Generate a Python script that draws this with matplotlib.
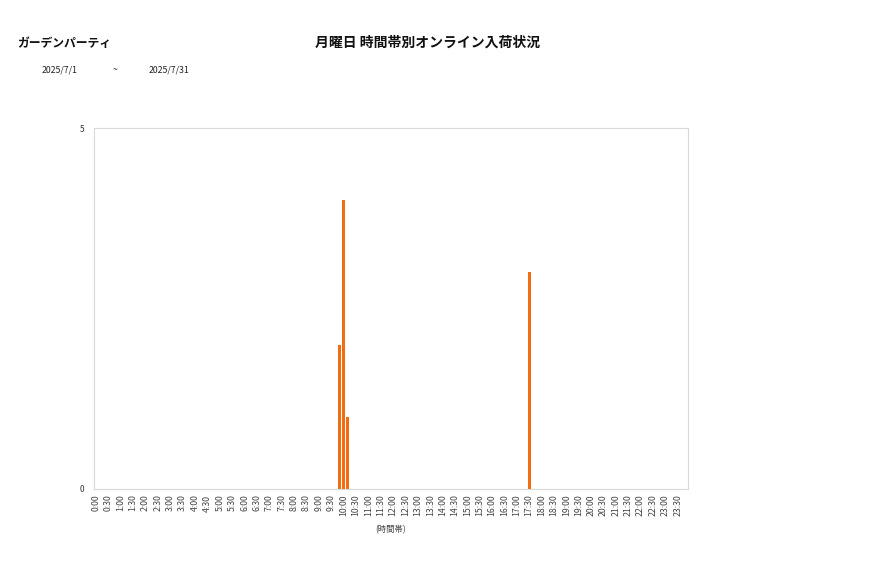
import matplotlib
matplotlib.use('Agg')
from matplotlib import pyplot as plt
import numpy as np

plt.rcParams['font.family'] = ['Noto Sans CJK JP', 'DejaVu Sans']

# 10-minute slots over the day; only slots with arrivals are listed
shop_name = 'ガーデンパーティ'
chart_title = '月曜日 時間帯別オンライン入荷状況'
date_from = '2025/7/1'
date_to = '2025/7/31'
x_label = '(時間帯)'

hit_slots = ['9:50', '10:00', '10:10', '17:30']
hit_counts = [2, 4, 1, 3]

y_ticks = [0, 5]

slot_labels = ['%d:%02d' % (h, m) for h in range(24) for m in (0, 10, 20, 30, 40, 50)]
counts = [0] * len(slot_labels)
for s, c in zip(hit_slots, hit_counts):
    counts[slot_labels.index(s)] = c

fig = plt.figure(figsize=(8.77, 5.78), dpi=100)
ax = fig.add_axes([94 / 877, 89 / 578, 594 / 877, 361 / 578])

x = np.arange(len(slot_labels))
ax.bar(x, counts, width=0.75, color='#F26C12')

ax.set_xlim(-0.5, len(slot_labels) - 0.5)
ax.set_ylim(0, 5)
ax.set_yticks(y_ticks)
ax.set_yticklabels([str(v) for v in y_ticks], fontsize=6, color='#333333')

tick_pos = x[::3]
ax.set_xticks(tick_pos)
ax.set_xticklabels([slot_labels[i] for i in tick_pos], rotation=90, fontsize=6.3, color='#444444')
ax.tick_params(length=0, pad=7)
ax.tick_params(axis='x', pad=4)

for sp in ax.spines.values():
    sp.set_color('#d9d9d9')
    sp.set_linewidth(0.8)

ax.set_xlabel(x_label, fontsize=6, color='#444444', labelpad=6)

fig.text(17 / 877, 1 - 44 / 578, shop_name, fontsize=8.5, fontweight='bold', va='center', ha='left', color='#111111')
fig.text(428 / 877, 1 - 43 / 578, chart_title, fontsize=10, fontweight='bold', va='center', ha='center', color='#111111')
fig.text(42 / 877, 1 - 70 / 578, date_from, fontsize=6.3, va='center', ha='left', color='#222222')
fig.text(115 / 877, 1 - 70 / 578, '~', fontsize=6.3, va='center', ha='center', color='#222222')
fig.text(149 / 877, 1 - 70 / 578, date_to, fontsize=6.3, va='center', ha='left', color='#222222')

fig.savefig('out.png', dpi=100)
